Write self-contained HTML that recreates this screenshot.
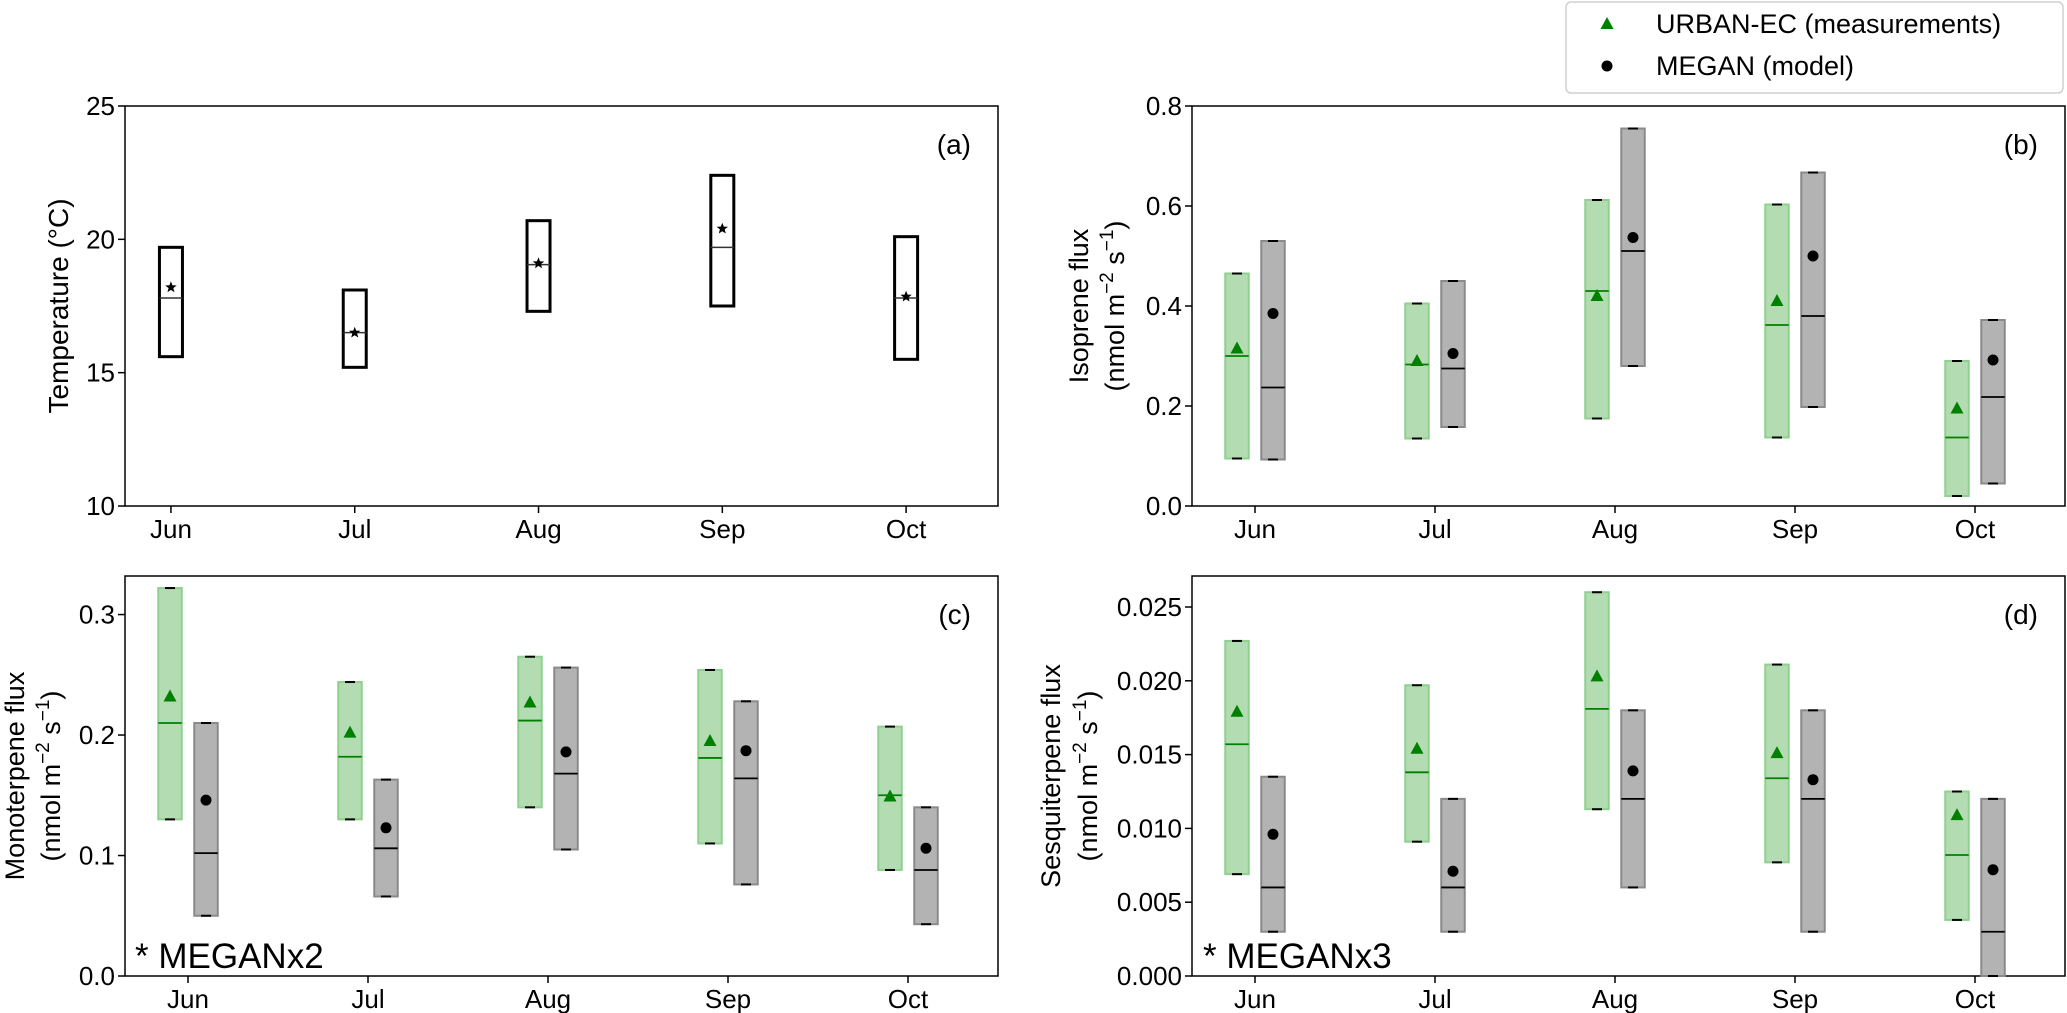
<!DOCTYPE html>
<html><head><meta charset="utf-8">
<style>
html,body{margin:0;padding:0;background:#fff;}
svg{display:block;font-family:"Liberation Sans",Arial,sans-serif;}
</style></head>
<body>
<svg id="fig" width="2067" height="1013" viewBox="0 0 2067 1013"></svg>
<script>
const months = ["Jun","Jul","Aug","Sep","Oct"];
// Panel (a) temperature
const tempLow  = [15.6,15.2,17.3,17.5,15.5];
const tempHigh = [19.7,18.1,20.7,22.4,20.1];
const tempMed  = [17.8,16.5,19.05,19.7,17.8];
const tempMean = [18.2,16.5,19.1,20.4,17.85];
// Panel (b) isoprene
const isoMeasLow=[0.095,0.135,0.175,0.137,0.02];
const isoMeasHigh=[0.465,0.405,0.612,0.603,0.29];
const isoMeasMed=[0.30,0.283,0.43,0.362,0.137];
const isoMeasMean=[0.315,0.29,0.42,0.41,0.195];
const isoModLow=[0.093,0.158,0.28,0.198,0.045];
const isoModHigh=[0.53,0.45,0.755,0.667,0.372];
const isoModMed=[0.237,0.275,0.51,0.38,0.218];
const isoModMean=[0.385,0.305,0.537,0.5,0.292];
// Panel (c) monoterpene
const monoMeasLow=[0.13,0.13,0.14,0.11,0.088];
const monoMeasHigh=[0.322,0.244,0.265,0.254,0.207];
const monoMeasMed=[0.21,0.182,0.212,0.181,0.15];
const monoMeasMean=[0.232,0.202,0.227,0.195,0.149];
const monoModLow=[0.05,0.066,0.105,0.076,0.043];
const monoModHigh=[0.21,0.163,0.256,0.228,0.14];
const monoModMed=[0.102,0.106,0.168,0.164,0.088];
const monoModMean=[0.146,0.123,0.186,0.187,0.106];
// Panel (d) sesquiterpene
const sesqMeasLow=[0.0069,0.0091,0.0113,0.0077,0.0038];
const sesqMeasHigh=[0.0227,0.0197,0.026,0.0211,0.0125];
const sesqMeasMed=[0.0157,0.0138,0.0181,0.0134,0.0082];
const sesqMeasMean=[0.0179,0.0154,0.0203,0.0151,0.0109];
const sesqModLow=[0.003,0.003,0.006,0.003,0.0];
const sesqModHigh=[0.0135,0.012,0.018,0.018,0.012];
const sesqModMed=[0.006,0.006,0.012,0.012,0.003];
const sesqModMean=[0.0096,0.0071,0.0139,0.0133,0.0072];
// tick labels
const tempTicks=[10,15,20,25];
const isoTicks=[0.0,0.2,0.4,0.6,0.8];
const monoTicks=[0.0,0.1,0.2,0.3];
const sesqTicks=[0,0.005,0.01,0.015,0.02,0.025];

const NS="http://www.w3.org/2000/svg";
const svg=document.getElementById('fig');
function el(tag,attrs,parent,text){
  const e=document.createElementNS(NS,tag);
  for(const k in attrs) e.setAttribute(k,attrs[k]);
  if(text!==undefined) e.textContent=text;
  (parent||svg).appendChild(e);
  return e;
}
function makePanel(p){
  const g=el('g',{});
  
  
  const sx=v=>p.x0+(v-p.xlim[0])/(p.xlim[1]-p.xlim[0])*(p.x1-p.x0);
  const sy=v=>p.y1-(v-p.ylim[0])/(p.ylim[1]-p.ylim[0])*(p.y1-p.y0);
  p.sx=sx;p.sy=sy;p.g=g;
  p.yticks.forEach(t=>{
    const y=sy(t);
    const tk=el('line',{x1:p.x0-7,x2:p.x0,y1:y,y2:y,stroke:'#000','stroke-width':1.5},g);
    
    
    const tl=el('text',{x:p.x0-10,y:y+9,'text-anchor':'end','font-size':26,fill:'#000'},g,t.toFixed(p.dec));
    
    
  });
  months.forEach((m,i)=>{
    const x=sx(i);
    const tk=el('line',{x1:x,x2:x,y1:p.y1,y2:p.y1+7,stroke:'#000','stroke-width':1.5},g);
    
    
    const tl=el('text',{x:x,y:p.y1+32,'text-anchor':'middle','font-size':26,fill:'#000'},g,m);
    
    
  });
  const fr=el('rect',{x:p.x0,y:p.y0,width:p.x1-p.x0,height:p.y1-p.y0,fill:'none',stroke:'#000','stroke-width':1.5},g);
  
  
  const pl=el('text',{x:p.x1-27,y:p.y0+48,'text-anchor':'end','font-size':28,fill:'#000'},g,p.label);
  
  
  return p;
}
function ylab2(p,x1,x2,line1){
  const cy=(p.y0+p.y1)/2;
  const t1=el('text',{x:0,y:0,'text-anchor':'middle','font-size':27,transform:`translate(${x1},${cy}) rotate(-90)`},p.g,line1);
  
  
  const t2=el('text',{x:0,y:0,'text-anchor':'middle','font-size':27,transform:`translate(${x2},${cy}) rotate(-90)`},p.g);
  
  
  el('tspan',{},t2,'(nmol m');
  el('tspan',{'font-size':19,dy:-11},t2,'\u22122');
  el('tspan',{dy:11},t2,' s');
  el('tspan',{'font-size':19,dy:-11},t2,'\u22121');
  el('tspan',{dy:11},t2,')');
}
function boxes(p,low,high,med,mean,off,kind){
  const w=23.5;
  months.forEach((m,i)=>{
    const cx=p.sx(i+off);
    const yt=p.sy(high[i]), yb=p.sy(low[i]);
    const green=kind==='meas';
    const r=el('rect',{x:cx-w/2,y:yt,width:w,height:yb-yt,fill:green?'#b3dcb3':'#b3b3b3',stroke:green?'#8fd08f':'#8a8a8a','stroke-width':2},p.g);
    
    
    el('line',{x1:cx-5,x2:cx+5,y1:yt,y2:yt,stroke:'#000','stroke-width':2},p.g);
    el('line',{x1:cx-5,x2:cx+5,y1:yb,y2:yb,stroke:'#000','stroke-width':2},p.g);
    const ym=p.sy(med[i]);
    const ml=el('line',{x1:cx-w/2,x2:cx+w/2,y1:ym,y2:ym,stroke:green?'#008000':'#000','stroke-width':1.8},p.g);
    
    
    const yv=p.sy(mean[i]);
    let mk;
    if(green){
      mk=el('polygon',{points:`${cx},${yv-7} ${cx-6.5},${yv+5} ${cx+6.5},${yv+5}`,fill:'#008000'},p.g);
    } else {
      mk=el('circle',{cx:cx,cy:yv,r:5.5,fill:'#000'},p.g);
    }
    
    
  });
}
function star(g,cx,cy,r){
  let pts=[];
  for(let k=0;k<10;k++){
    const a=-Math.PI/2+k*Math.PI/5;
    const rr=k%2?r*0.42:r;
    pts.push((cx+rr*Math.cos(a)).toFixed(1)+','+(cy+rr*Math.sin(a)).toFixed(1));
  }
  return el('polygon',{points:pts.join(' '),fill:'#000'},g);
}

// Panel a
const pa=makePanel({name:'panel-a-temperature',x0:125,x1:998,y0:106,y1:506,xlim:[-0.25,4.5],ylim:[10,25],yticks:tempTicks,dec:0,label:'(a)'});
{
  const t=el('text',{x:0,y:0,'text-anchor':'middle','font-size':28,transform:`translate(68,306) rotate(-90)`},pa.g,'Temperature  (\u00B0C)');
  
  
  months.forEach((m,i)=>{
    const cx=pa.sx(i),w=23;
    const yt=pa.sy(tempHigh[i]),yb=pa.sy(tempLow[i]);
    const r=el('rect',{x:cx-w/2,y:yt,width:w,height:yb-yt,fill:'#fff',stroke:'#000','stroke-width':3},pa.g);
    
    
    const ym=pa.sy(tempMed[i]);
    el('line',{x1:cx-w/2,x2:cx+w/2,y1:ym,y2:ym,stroke:'#333','stroke-width':1.5},pa.g);
    const s=star(pa.g,cx,pa.sy(tempMean[i]),6);
    
    
  });
}
// Panel b
const pb=makePanel({name:'panel-b-isoprene',x0:1192,x1:2065,y0:106,y1:506,xlim:[-0.35,4.5],ylim:[0,0.8],yticks:isoTicks,dec:1,label:'(b)'});
ylab2(pb,1088,1124,'Isoprene flux');
boxes(pb,isoMeasLow,isoMeasHigh,isoMeasMed,isoMeasMean,-0.1,'meas');
boxes(pb,isoModLow,isoModHigh,isoModMed,isoModMean,0.1,'mod');
// Panel c
const pc=makePanel({name:'panel-c-monoterpene',x0:125,x1:998,y0:576,y1:976,xlim:[-0.35,4.5],ylim:[0,0.332],yticks:monoTicks,dec:1,label:'(c)'});
ylab2(pc,24,60,'Monoterpene flux');
boxes(pc,monoMeasLow,monoMeasHigh,monoMeasMed,monoMeasMean,-0.1,'meas');
boxes(pc,monoModLow,monoModHigh,monoModMed,monoModMean,0.1,'mod');
{const t=el('text',{x:135,y:968,'font-size':35},pc.g,'* MEGANx2');}
// Panel d
const pd=makePanel({name:'panel-d-sesquiterpene',x0:1192,x1:2065,y0:576,y1:976,xlim:[-0.35,4.5],ylim:[0,0.0271],yticks:sesqTicks,dec:3,label:'(d)'});
ylab2(pd,1060,1097,'Sesquiterpene flux');
boxes(pd,sesqMeasLow,sesqMeasHigh,sesqMeasMed,sesqMeasMean,-0.1,'meas');
boxes(pd,sesqModLow,sesqModHigh,sesqModMed,sesqModMean,0.1,'mod');
{const t=el('text',{x:1203,y:968,'font-size':35},pd.g,'* MEGANx3');}

// Legend
{
  const g=el('g',{});
  
  
  el('rect',{x:1566,y:2,width:497,height:91,rx:5,fill:'#fff',stroke:'#d0d0d0','stroke-width':1.5},g);
  const tri=el('polygon',{points:'1607,17 1600.5,29 1613.5,29',fill:'#008000'},g);
  
  
  const t1=el('text',{x:1656,y:33,'font-size':27},g,'URBAN-EC (measurements)');
  
  
  const c=el('circle',{cx:1607,cy:66,r:5.5,fill:'#000'},g);
  
  
  const t2=el('text',{x:1656,y:75,'font-size':27},g,'MEGAN (model)');
  
  
}
</script>
</body></html>
